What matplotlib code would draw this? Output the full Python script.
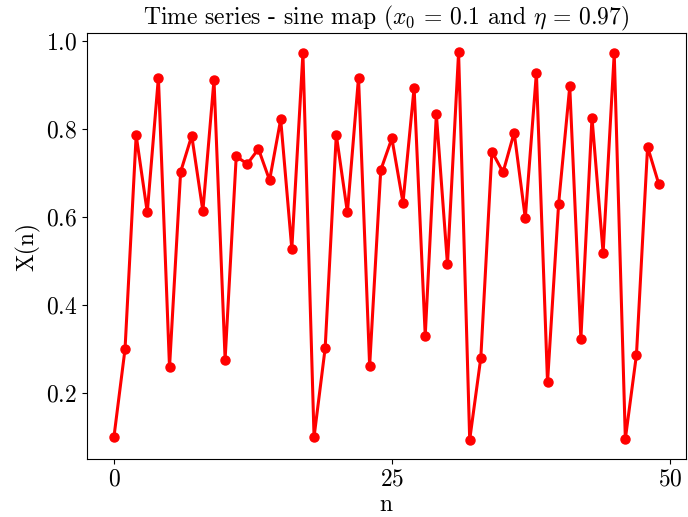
import matplotlib
matplotlib.use("Agg")
import matplotlib.pyplot as plt
import numpy as np

plt.rcParams['font.family'] = 'serif'
plt.rcParams['font.serif'] = ['cmr10']
plt.rcParams['mathtext.fontset'] = 'cm'
plt.rcParams['axes.formatter.use_mathtext'] = True
plt.rcParams['axes.unicode_minus'] = False

# values (sine map, x0 = 0.1, eta = 0.97)
n = np.arange(50)
x_n = [0.100, 0.300, 0.785, 0.610, 0.916, 0.258, 0.702, 0.784, 0.613, 0.911,
       0.276, 0.737, 0.720, 0.754, 0.683, 0.821, 0.527, 0.971, 0.100, 0.302,
       0.786, 0.610, 0.916, 0.261, 0.706, 0.778, 0.632, 0.893, 0.330, 0.833,
       0.492, 0.973, 0.094, 0.280, 0.748, 0.701, 0.791, 0.597, 0.927, 0.224,
       0.630, 0.896, 0.323, 0.825, 0.518, 0.971, 0.096, 0.287, 0.759, 0.675]

fig = plt.figure(figsize=(6.88, 5.17), dpi=100)
ax = fig.add_subplot(111)
fig.subplots_adjust(left=0.126, right=0.997, top=0.936, bottom=0.112)

ax.plot(n, x_n, '-o', color='red', linewidth=2.2, markersize=6.5)

ax.set_xticks([0, 25, 50])
ax.set_yticks([0.2, 0.4, 0.6, 0.8, 1.0])
ax.tick_params(labelsize=17)
ax.set_xlabel("n", fontsize=17, labelpad=2)
ax.set_ylabel("X(n)", fontsize=17)
ax.set_title(r"Time series - sine map ($x_0\,=\,0.1$ and $\eta\,=\,0.97$)", fontsize=17)

plt.savefig("out.png")
plt.close()
